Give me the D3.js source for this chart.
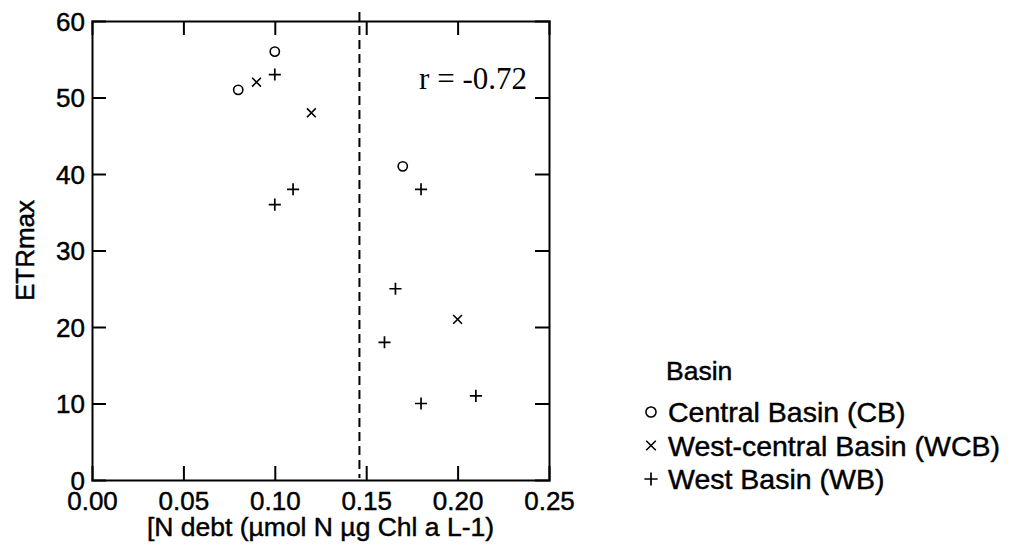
<!DOCTYPE html>
<html>
<head>
<meta charset="utf-8">
<script src="https://cdn.jsdelivr.net/npm/d3@7"></script>
<style>
  body { margin: 0; background: #fff; }
  text { font-family: Arial, "Liberation Sans", sans-serif; fill: #000; }
  .heavy { stroke: #000; stroke-width: 0.45px; }
</style>
</head>
<body>
<svg id="grafica" width="1016" height="554"></svg>
<script>
// datos
const basins = ["Central Basin (CB)", "West-central Basin (WCB)", "West Basin (WB)"];
const shapes = ["circle", "cross", "plus"];
const cb_x = [0.08, 0.10, 0.17];
const cb_y = [51, 56, 41];
const wcb_x = [0.09, 0.12, 0.20];
const wcb_y = [52, 48, 21];
const wb_x = [0.10, 0.11, 0.10, 0.18, 0.166, 0.16, 0.18, 0.21];
const wb_y = [53, 38, 36, 38, 25, 18, 10, 11];
const x_ticks = [0, 0.05, 0.10, 0.15, 0.20, 0.25];
const y_ticks = [0, 10, 20, 30, 40, 50, 60];
const threshold = 0.1463;
const r_label = "r = -0.72";

const margin = {l: 92, r: 467, t: 21, b: 74};
const svg_w = 1016, svg_h = 554;
const viz_w = svg_w - margin.l - margin.r;
const viz_h = svg_h - margin.t - margin.b;

let svg = d3.select("#grafica");

let x_scale = d3.scaleLinear().domain([0, 0.25]).range([0, viz_w]);
let y_scale = d3.scaleLinear().domain([0, 60]).range([viz_h, 0]);

let g = svg.append("g").attr("transform", `translate(${margin.l},${margin.t})`);

// ejes con ticks hacia adentro
const tick_len = 14;
let ax_b = g.append("g").attr("transform", `translate(0,${viz_h})`)
  .call(d3.axisBottom(x_scale).tickValues(x_ticks).tickFormat(d3.format(".2f")).tickSize(-tick_len).tickPadding(12));
let ax_t = g.append("g")
  .call(d3.axisTop(x_scale).tickValues(x_ticks).tickSize(-tick_len).tickFormat(""));
let ax_l = g.append("g")
  .call(d3.axisLeft(y_scale).tickValues(y_ticks).tickSize(-tick_len).tickPadding(7));
let ax_r = g.append("g").attr("transform", `translate(${viz_w},0)`)
  .call(d3.axisRight(y_scale).tickValues(y_ticks).tickSize(-tick_len).tickFormat(""));

[ax_b, ax_t, ax_l, ax_r].forEach(a => {
  a.select(".domain").attr("stroke", "#000").attr("stroke-width", 2);
  a.selectAll(".tick line").attr("stroke", "#000").attr("stroke-width", 2);
  a.selectAll(".tick text").attr("fill", "#000").attr("class", "heavy")
    .style("font-family", "Arial, 'Liberation Sans', sans-serif").style("font-size", "26px");
});
// ocultar ticks en los extremos
ax_b.selectAll(".tick line").filter(d => d === 0 || d === 0.25).remove();
ax_t.selectAll(".tick line").filter(d => d === 0 || d === 0.25).remove();
ax_l.selectAll(".tick line").filter(d => d === 0 || d === 60).remove();
ax_r.selectAll(".tick line").filter(d => d === 0 || d === 60).remove();
ax_b.selectAll(".tick text").attr("dy", "0.71em");
ax_l.selectAll(".tick text").attr("dy", "0.36em");

// línea discontinua
g.append("line")
  .attr("x1", x_scale(threshold)).attr("x2", x_scale(threshold))
  .attr("y1", -9).attr("y2", viz_h - 2)
  .attr("stroke", "#000").attr("stroke-width", 2)
  .attr("stroke-dasharray", "9,5");

// texto r
g.append("text")
  .attr("x", viz_w - 22).attr("y", 68)
  .attr("text-anchor", "end")
  .style("font-family", "'Liberation Serif', 'Times New Roman', serif")
  .style("font-size", "31px")
  .text(r_label);

// títulos de ejes
svg.append("text").attr("class", "heavy")
  .attr("x", margin.l + viz_w / 2).attr("y", 536)
  .attr("text-anchor", "middle").style("font-size", "26.5px")
  .text("[N debt (µmol N µg Chl a L-1)");
svg.append("text").attr("class", "heavy")
  .attr("transform", `translate(34,${margin.t + viz_h / 2}) rotate(-90)`)
  .attr("text-anchor", "middle").style("font-size", "26px")
  .text("ETRmax");

// símbolos
function draw_symbol(sel, shape, s) {
  if (shape === "circle") {
    sel.append("circle").attr("r", s * 0.42).attr("fill", "none")
      .attr("stroke", "#000").attr("stroke-width", 1.6);
  } else if (shape === "cross") {
    let h = s * 0.4;
    sel.append("path").attr("d", `M${-h},${-h}L${h},${h}M${-h},${h}L${h},${-h}`)
      .attr("stroke", "#000").attr("stroke-width", 1.6);
  } else {
    let h = s * 0.55;
    sel.append("path").attr("d", `M${-h},0L${h},0M0,${-h}L0,${h}`)
      .attr("stroke", "#000").attr("stroke-width", 1.7);
  }
}

let series = [
  {shape: shapes[0], xs: cb_x, ys: cb_y},
  {shape: shapes[1], xs: wcb_x, ys: wcb_y},
  {shape: shapes[2], xs: wb_x, ys: wb_y}
];
series.forEach(s => {
  let pts = s.xs.map((x, i) => ({x: x, y: s.ys[i]}));
  g.append("g").selectAll("g")
    .data(pts)
    .enter()
    .append("g")
    .attr("transform", d => `translate(${x_scale(d.x)},${y_scale(d.y)})`)
    .each(function() { draw_symbol(d3.select(this), s.shape, 11); });
});

// leyenda
let leg = svg.append("g").attr("transform", "translate(651,0)");
leg.append("text").attr("class", "heavy").attr("x", 15).attr("y", 380).style("font-size", "26.5px").text("Basin");
basins.forEach((b, i) => {
  let row = leg.append("g").attr("transform", `translate(0,${412 + i * 33.5})`);
  draw_symbol(row.append("g"), shapes[i], 12);
  row.append("text").attr("class", "heavy").attr("x", 17).attr("y", 10).style("font-size", "28.5px").text(b);
});
</script>
</body>
</html>
